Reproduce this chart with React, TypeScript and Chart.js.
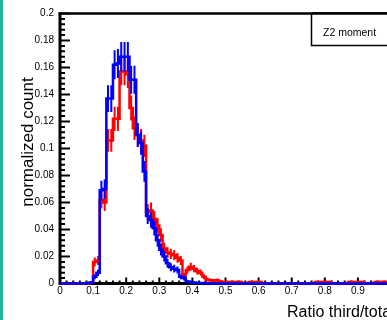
import React, { useEffect, useRef } from "react";
import { Chart, registerables } from "chart.js";

Chart.register(...registerables);

// ---- data ----
const BIN_LOW = 0;
const BIN_WIDTH = 0.01;

// normalized counts per 0.01 bin, 0.00 .. 0.99
const blueValues = [
  0, 0, 0, 0, 0, 0, 0, 0, 0.0004, 0.0008,
  0.005, 0.008, 0.069, 0.07, 0.137, 0.137, 0.162, 0.163, 0.168, 0.168,
  0.168, 0.151, 0.151, 0.11, 0.104, 0.083, 0.05, 0.047, 0.041, 0.032,
  0.025, 0.02, 0.015, 0.012, 0.011, 0.01, 0.005, 0.004, 0.0015, 0.0012,
  0.0008, 0.0005, 0.0004, 0.0003, 0.0002, 0, 0, 0, 0, 0,
  0, 0, 0, 0, 0, 0, 0, 0, 0, 0,
  0, 0, 0, 0, 0, 0, 0, 0, 0, 0,
  0, 0, 0, 0, 0, 0, 0, 0, 0, 0,
  0, 0, 0, 0, 0, 0, 0, 0, 0, 0,
  0, 0, 0, 0, 0, 0, 0, 0, 0, 0,
];

const redValues = [
  0, 0, 0, 0, 0, 0, 0, 0, 0, 0.0005,
  0.016, 0.017, 0.062, 0.06, 0.106, 0.106, 0.122, 0.122, 0.157, 0.157,
  0.155, 0.13, 0.115, 0.11, 0.106, 0.102, 0.053, 0.054, 0.048, 0.043,
  0.036, 0.026, 0.023, 0.022, 0.021, 0.019, 0.017, 0.006, 0.01, 0.0125,
  0.011, 0.009, 0.008, 0.005, 0.003, 0.0025, 0.002, 0.0025, 0.0015, 0.001,
  0.0012, 0.0012, 0.0012, 0.0012, 0.0012, 0, 0, 0.0012, 0.0012, 0.0012,
  0.0012, 0, 0, 0, 0, 0, 0, 0, 0, 0,
  0, 0, 0, 0, 0, 0, 0, 0.0012, 0.0012, 0.0012,
  0.0012, 0.0012, 0, 0, 0, 0, 0, 0.0012, 0.0012, 0.0012,
  0.0012, 0.0012, 0, 0, 0, 0.0012, 0.0012, 0.0012, 0.0012, 0.0012,
];

// number of entries used for the statistical (sqrt N) error bars
const blueEntries = 1400;
const redEntries = 1500;

const xAxisTitle = "Ratio third/total";
const yAxisTitle = "normalized count";
const paveText = "Z2 moment";

const FONT = "'Liberation Sans', Arial, Helvetica, sans-serif";

function toSteps(values: number[]) {
  const pts = values.map((v, i) => ({ x: BIN_LOW + i * BIN_WIDTH, y: v }));
  pts.push({ x: BIN_LOW + values.length * BIN_WIDTH, y: values[values.length - 1] });
  return pts;
}

function fmt(v: number) {
  return String(Number(v.toFixed(3)));
}

const errorBarPlugin = {
  id: "errorBars",
  afterDatasetDraw(chart: any, args: any) {
    const ds = chart.data.datasets[args.index];
    const vals: number[] = ds.binValues;
    const n: number = ds.entries;
    if (!vals) return;
    const xs = chart.scales.x;
    const ys = chart.scales.y;
    const ctx = chart.ctx;
    ctx.save();
    ctx.strokeStyle = ds.borderColor;
    ctx.lineWidth = 2;
    ctx.beginPath();
    vals.forEach((v, i) => {
      if (v <= 0) return;
      const e = Math.sqrt(v / n);
      const cx = xs.getPixelForValue(BIN_LOW + (i + 0.5) * BIN_WIDTH);
      ctx.moveTo(cx, ys.getPixelForValue(Math.max(0, v - e)));
      ctx.lineTo(cx, ys.getPixelForValue(v + e));
    });
    ctx.stroke();
    ctx.restore();
  },
};

const framePlugin = {
  id: "rootFrame",
  beforeDatasetsDraw(chart: any) {
    const { ctx, chartArea: a } = chart;
    const xs = chart.scales.x;
    const ys = chart.scales.y;
    ctx.save();
    ctx.strokeStyle = "#000";
    // ticks on y axis
    ctx.lineWidth = 2;
    ctx.beginPath();
    for (let k = 0; k <= 50; k++) {
      const v = k * 0.004;
      const py = ys.getPixelForValue(v);
      const len = k % 5 === 0 ? 10 : 5;
      ctx.moveTo(a.left, py);
      ctx.lineTo(a.left + len, py);
    }
    // ticks on x axis
    for (let k = 0; k <= 50; k++) {
      const v = k * 0.02;
      const px = xs.getPixelForValue(v);
      const len = k % 5 === 0 ? 6 : 3;
      ctx.moveTo(px, a.bottom);
      ctx.lineTo(px, a.bottom - len);
    }
    ctx.stroke();
    // axis lines
    ctx.lineWidth = 3;
    ctx.beginPath();
    ctx.moveTo(a.left, a.top - 1);
    ctx.lineTo(a.left, a.bottom + 1.5);
    ctx.moveTo(a.left - 1.5, a.bottom);
    ctx.lineTo(a.right + 20, a.bottom);
    ctx.stroke();
    ctx.lineWidth = 2.5;
    ctx.beginPath();
    ctx.moveTo(a.left - 1.5, a.top);
    ctx.lineTo(a.right + 20, a.top);
    ctx.stroke();
    ctx.restore();
  },
  afterDraw(chart: any) {
    const { ctx, chartArea: a } = chart;
    ctx.save();
    ctx.fillStyle = "#000";
    // y title
    ctx.font = `17px ${FONT}`;
    ctx.translate(33, 142);
    ctx.rotate(-Math.PI / 2);
    ctx.textAlign = "center";
    ctx.textBaseline = "alphabetic";
    ctx.fillText(yAxisTitle, 0, 0);
    ctx.restore();

    ctx.save();
    ctx.fillStyle = "#000";
    ctx.font = `16px ${FONT}`;
    ctx.textAlign = "left";
    ctx.textBaseline = "alphabetic";
    ctx.fillText(xAxisTitle, 287, 316.5);

    // title pave
    ctx.fillStyle = "#fff";
    ctx.fillRect(311.5, a.top, 120, 32);
    ctx.strokeStyle = "#000";
    ctx.lineWidth = 1.5;
    ctx.beginPath();
    ctx.moveTo(311.5, a.top);
    ctx.lineTo(311.5, a.top + 32);
    ctx.lineTo(431.5, a.top + 32);
    ctx.stroke();
    ctx.lineWidth = 2.5;
    ctx.beginPath();
    ctx.moveTo(311.5, a.top);
    ctx.lineTo(431.5, a.top);
    ctx.stroke();
    ctx.fillStyle = "#000";
    ctx.font = `10.5px ${FONT}`;
    ctx.fillText(paveText, 323, 36);
    ctx.restore();
  },
};

export default function App() {
  const ref = useRef<HTMLCanvasElement | null>(null);
  useEffect(() => {
    if (!ref.current) return;
    const tickFont = { family: FONT, size: 10 };
    const chart = new Chart(ref.current, {
      type: "line",
      data: {
        datasets: [
          {
            label: "blue",
            data: toSteps(blueValues),
            binValues: blueValues,
            entries: blueEntries,
            borderColor: "#0000ff",
            borderWidth: 2.5,
            stepped: "before",
            pointRadius: 0,
            fill: false,
            clip: false,
          } as any,
          {
            label: "red",
            data: toSteps(redValues),
            binValues: redValues,
            entries: redEntries,
            borderColor: "#ff0000",
            borderWidth: 2.5,
            stepped: "before",
            pointRadius: 0,
            fill: false,
            clip: false,
          } as any,
        ],
      },
      options: {
        animation: false,
        responsive: false,
        devicePixelRatio: 1,
        layout: { padding: { left: 0, right: 9, top: 13.5, bottom: 0 } },
        plugins: { legend: { display: false }, tooltip: { enabled: false }, title: { display: false } },
        elements: { point: { radius: 0 } },
        scales: {
          x: {
            type: "linear",
            min: 0,
            max: 1,
            grid: { display: false, drawTicks: false },
            border: { display: false },
            ticks: {
              stepSize: 0.1,
              padding: 2,
              color: "#000",
              font: tickFont,
              maxRotation: 0,
              autoSkip: false,
              callback: (v: any) => fmt(Number(v)),
            },
            afterFit: (s: any) => {
              s.height = 36.5;
            },
          },
          y: {
            type: "linear",
            min: 0,
            max: 0.2,
            grid: { display: false, drawTicks: false },
            border: { display: false },
            ticks: {
              stepSize: 0.02,
              padding: 6,
              color: "#000",
              font: tickFont,
              autoSkip: false,
              callback: (v: any) => fmt(Number(v)),
            },
            afterFit: (s: any) => {
              s.width = 60;
            },
          },
        },
      },
      plugins: [framePlugin, errorBarPlugin],
    } as any);
    return () => chart.destroy();
  }, []);

  return (
    <div
      style={{
        position: "absolute",
        left: 0,
        top: 0,
        width: 387,
        height: 320,
        overflow: "hidden",
        background: "#fff",
      }}
    >
      <canvas ref={ref} width={400} height={320} style={{ display: "block", position: "absolute", left: 0, top: 0 }} />
      <div style={{ position: "absolute", left: 0, top: 0, width: 3, height: 320, background: "#20b4a0" }} />
    </div>
  );
}
